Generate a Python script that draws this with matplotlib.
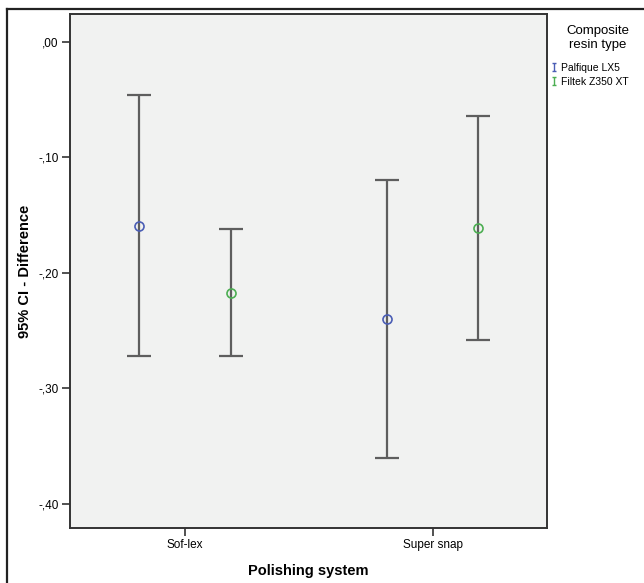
import numpy as np
import matplotlib
matplotlib.use("Agg")
import matplotlib.pyplot as plt
from matplotlib.lines import Line2D
from matplotlib.path import Path

plt.rcParams['font.family'] = ['Liberation Sans', 'DejaVu Sans']

# data
systems = ["Sof-lex", "Super snap"]
resins = ["Palfique LX5", "Filtek Z350 XT"]
colors = ["#4a5db5", "#4cae52"]
means = {"Palfique LX5": [-0.159, -0.240], "Filtek Z350 XT": [-0.217, -0.161]}
upper = {"Palfique LX5": [-0.046, -0.120], "Filtek Z350 XT": [-0.162, -0.064]}
lower = {"Palfique LX5": [-0.272, -0.360], "Filtek Z350 XT": [-0.272, -0.258]}
yticks = [0.0, -0.1, -0.2, -0.3, -0.4]
ytick_labels = [",00", "-,10", "-,20", "-,30", "-,40"]

fig = plt.figure(figsize=(6.44, 5.83), dpi=100)
ax = fig.add_axes([70/644, 1 - 528/583, 477/644, 514/583])
ax.set_facecolor("#f1f2f1")

x = np.arange(len(systems))
offsets = [-0.185, 0.185]
for i, r in enumerate(resins):
    m = np.array(means[r])
    lo = m - np.array(lower[r])
    hi = np.array(upper[r]) - m
    ax.errorbar(x + offsets[i], m, yerr=[lo, hi], fmt='none', ecolor="#5e5e5e",
                elinewidth=1.6, capsize=8.6, capthick=1.6, zorder=2)
    ax.plot(x + offsets[i], m, 'o', mfc='none', mec=colors[i], ms=6.5, mew=1.2, zorder=3)

ax.set_xlim(-0.466, 1.463)
ax.set_ylim(-0.4207, 0.024)
ax.set_xticks(x)
ax.set_xticklabels(systems, fontsize=8.5)
ax.set_yticks(yticks)
ax.set_yticklabels(ytick_labels, fontsize=8.5)
ax.tick_params(axis='both', length=6, width=1.2, color="#333333", pad=2)
for s in ax.spines.values():
    s.set_color("#333333")
    s.set_linewidth(1.4)

ax.set_xlabel("Polishing system", fontsize=10.5, fontweight='bold', labelpad=9)
ax.set_ylabel("95% CI - Difference", fontsize=10.5, fontweight='bold', labelpad=5)

# legend title, centred like SPSS
fig.text(598/644, 1 - 38/583, "Composite\nresin type", ha='center', va='center',
         fontsize=9.5, linespacing=1.3)

# I-beam legend symbol
ibeam = Path([(-0.5, 1), (0.5, 1), (0, 1), (0, -1), (-0.5, -1), (0.5, -1)],
             [Path.MOVETO, Path.LINETO, Path.MOVETO, Path.LINETO, Path.MOVETO, Path.LINETO])
handles = [Line2D([], [], marker=ibeam, color=c, ls='none', ms=6, mew=1) for c in colors]
ax.legend(handles, resins, loc='upper left',
          bbox_to_anchor=(551/644, 1 - 63/583), bbox_transform=fig.transFigure,
          frameon=False, fontsize=7.5, handlelength=0.5, handletextpad=0.45,
          labelspacing=0.35, borderaxespad=0, borderpad=0)

# outer frame (top and left edges)
fig.add_artist(Line2D([7/644, 7/644], [0, 1 - 9/583], transform=fig.transFigure, color="#222222", lw=1.6))
fig.add_artist(Line2D([7/644, 1], [1 - 9/583, 1 - 9/583], transform=fig.transFigure, color="#222222", lw=1.6))

fig.savefig("out.png", dpi=100)
